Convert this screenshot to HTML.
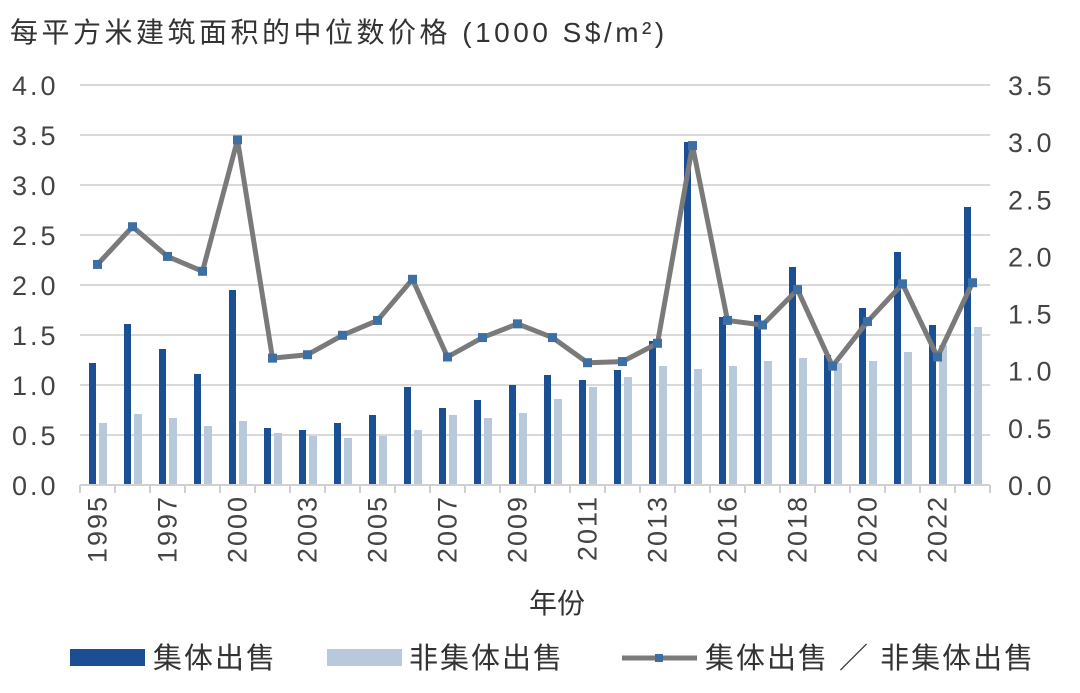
<!DOCTYPE html>
<html><head><meta charset="utf-8"><style>
body{margin:0;background:#fff;}
svg text{font-family:"Liberation Sans","Noto Sans CJK SC",sans-serif;fill:#444;}
</style></head><body>
<svg width="1080" height="688" xmlns="http://www.w3.org/2000/svg">
<text x="10" y="42" font-size="28" letter-spacing="3.5" style="fill:#333">每平方米建筑面积的中位数价格 (1000 S$/m²)</text>
<g id="grid" stroke="#d9d9d9" stroke-width="2"></g>
<g id="bars"></g>
<g id="axes"></g>
<g id="line"></g>
<text x="557" y="613" font-size="28" text-anchor="middle" style="fill:#333">年份</text>
<rect x="70" y="649" width="75" height="17" fill="#1a4f93"/>
<text x="153" y="668" font-size="29" letter-spacing="2" style="fill:#333">集体出售</text>
<rect x="327" y="649" width="75" height="17" fill="#b8c9dc"/>
<text x="409" y="668" font-size="29" letter-spacing="2" style="fill:#333">非集体出售</text>
<line x1="622" y1="658" x2="697" y2="658" stroke="#7a7a7a" stroke-width="5"/>
<rect x="655" y="654" width="8" height="8" fill="#3d6fa3"/>
<text x="705" y="668" font-size="29" letter-spacing="2" style="fill:#333">集体出售 ／ 非集体出售</text>
</svg>
<script>
const ns="http://www.w3.org/2000/svg";
function el(p,t,a,txt){const e=document.createElementNS(ns,t);for(const k in a)e.setAttribute(k,a[k]);if(txt!==undefined)e.textContent=txt;document.getElementById(p).appendChild(e);return e;}
const x0=80,w=35,y0=485;
const dark=[1.22,1.61,1.36,1.11,1.95,0.57,0.55,0.62,0.70,0.98,0.77,0.85,1.0,1.1,1.05,1.15,1.44,3.43,1.68,1.70,2.18,1.30,1.77,2.33,1.60,2.78];
const light=[0.62,0.71,0.67,0.59,0.64,0.52,0.49,0.47,0.49,0.55,0.70,0.67,0.72,0.86,0.98,1.08,1.19,1.16,1.19,1.24,1.27,1.22,1.24,1.33,1.40,1.58];
const ln=[1.93,2.26,2.0,1.87,3.02,1.11,1.14,1.31,1.44,1.80,1.12,1.29,1.41,1.29,1.07,1.08,1.24,2.97,1.44,1.40,1.71,1.04,1.43,1.76,1.12,1.77];
for(let i=1;i<=8;i++){const y=y0-i*50;el("grid","line",{x1:80,x2:990,y1:y,y2:y});}
for(let i=0;i<=8;i++){el("axes","text",{x:12,y:y0-i*50+10,"font-size":27,"letter-spacing":"3"},(i*0.5).toFixed(1));}
for(let i=0;i<=7;i++){el("axes","text",{x:1008,y:y0-i*400/7+10,"font-size":27,"letter-spacing":"3"},(i*0.5).toFixed(1));}
el("axes","line",{x1:80,x2:990,y1:y0,y2:y0,stroke:"#d0d0d0","stroke-width":2});
for(let i=0;i<=26;i++)el("axes","line",{x1:x0+i*w,x2:x0+i*w,y1:y0,y2:y0+8,stroke:"#d0d0d0","stroke-width":2});
const labs=["1995","1997","2000","2003","2005","2007","2009","2011","2013","2016","2018","2020","2022"];
labs.forEach((l,k)=>{const cx=x0+(2*k)*w+w/2+9;el("axes","text",{x:0,y:0,"font-size":27,"letter-spacing":"2","text-anchor":"end",transform:`translate(${cx},495) rotate(-90)`},l);});
let pts=[];
for(let i=0;i<26;i++){const c=x0+i*w+w/2;
el("bars","rect",{x:c-8.5,y:y0-dark[i]*100,width:7,height:dark[i]*100,fill:"#1a4f93"});
el("bars","rect",{x:c+1.5,y:y0-light[i]*100,width:8,height:light[i]*100,fill:"#b8c9dc"});
pts.push([c,y0-ln[i]*400/3.5]);}
el("line","polyline",{points:pts.map(p=>p.join(",")).join(" "),fill:"none",stroke:"#7a7a7a","stroke-width":5,"stroke-linejoin":"round"});
pts.forEach(p=>el("line","rect",{x:p[0]-4.5,y:p[1]-4.5,width:9,height:9,fill:"#3d6fa3"}));
</script>
</body></html>
